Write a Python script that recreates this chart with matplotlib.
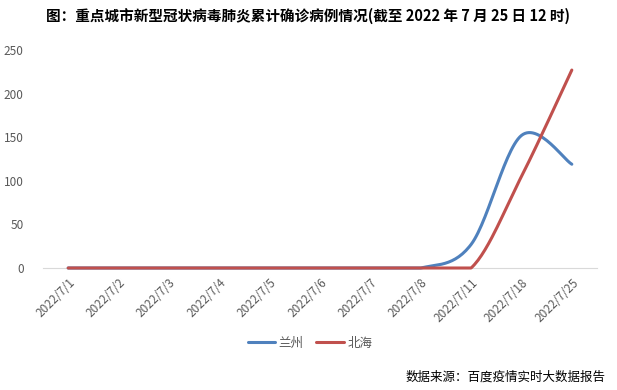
import numpy as np
import matplotlib
matplotlib.use("Agg")
from matplotlib import pyplot as plt

plt.rcParams['font.family'] = ['Noto Sans CJK SC', 'DejaVu Sans']

# data
dates = ['2022/7/1', '2022/7/2', '2022/7/3', '2022/7/4', '2022/7/5', '2022/7/6',
         '2022/7/7', '2022/7/8', '2022/7/11', '2022/7/18', '2022/7/25']
lanzhou = [0, 0, 0, 0, 0, 0, 0, 0, 27, 152, 119]
beihai = [0, 0, 0, 0, 0, 0, 0, 0, 0, 105, 227]


def smooth(x, y, n=30):
    # excel-like smoothed line: bezier segments with catmull-rom control points
    x = np.asarray(x, float)
    y = np.asarray(y, float)
    xs, ys = [], []
    for i in range(len(x) - 1):
        x0, y0 = (x[i - 1], y[i - 1]) if i > 0 else (x[i], y[i])
        x3, y3 = (x[i + 2], y[i + 2]) if i + 2 < len(x) else (x[i + 1], y[i + 1])
        c1x = x[i] + (x[i + 1] - x0) / 6
        c1y = y[i] + (y[i + 1] - y0) / 6
        c2x = x[i + 1] - (x3 - x[i]) / 6
        c2y = y[i + 1] - (y3 - y[i]) / 6
        t = np.linspace(0, 1, n)
        a, b, c, d = (1 - t) ** 3, 3 * t * (1 - t) ** 2, 3 * t ** 2 * (1 - t), t ** 3
        xs.append(a * x[i] + b * c1x + c * c2x + d * x[i + 1])
        ys.append(a * y[i] + b * c1y + c * c2y + d * y[i + 1])
    # the axis floor hides the overshoot below zero
    return np.concatenate(xs), np.clip(np.concatenate(ys), 0, None)


fig = plt.figure(figsize=(6.17, 3.9), dpi=100)
ax = fig.add_axes([43 / 617, 1 - 268 / 390, (597 - 43) / 617, (268 - 50) / 390])

idx = np.arange(len(dates))
sx, sy = smooth(idx, lanzhou)
ax.plot(sx, sy, color='#4F81BD', lw=2.2, label='兰州', solid_capstyle='round', clip_on=False)
sx, sy = smooth(idx, beihai)
ax.plot(sx, sy, color='#C0504D', lw=2.2, label='北海', solid_capstyle='round', clip_on=False)

ax.set_xlim(-0.5, 10.5)
ax.set_ylim(0, 250)
ax.set_yticks([0, 50, 100, 150, 200, 250])
ax.set_xticks(idx)
ax.set_xticklabels(dates, rotation=45, ha='right', rotation_mode='anchor')
ax.tick_params(axis='both', length=0, colors='#595959', labelsize=8.5)
ax.tick_params(axis='x', pad=6)
ax.tick_params(axis='y', pad=14)
for s in ['top', 'right', 'left']:
    ax.spines[s].set_visible(False)
ax.spines['bottom'].set_color('#D9D9D9')
ax.spines['bottom'].set_zorder(0)

fig.text(0.5, 1 - 16 / 390, '图：重点城市新型冠状病毒肺炎累计确诊病例情况(截至 2022 年 7 月 25 日 12 时)',
         ha='center', va='center', fontsize=10.5, fontweight='bold', color='black')
leg = fig.legend(loc='center', bbox_to_anchor=(310 / 617, 1 - 343 / 390), ncol=2,
                 frameon=False, fontsize=9, handlelength=2.2, columnspacing=1.0, handletextpad=0.3)
for t in leg.get_texts():
    t.set_color('#595959')
fig.text(606 / 617, 1 - 377 / 390, '数据来源：百度疫情实时大数据报告', ha='right', va='center',
         fontsize=9, color='black')

fig.savefig('out.png', dpi=100)
